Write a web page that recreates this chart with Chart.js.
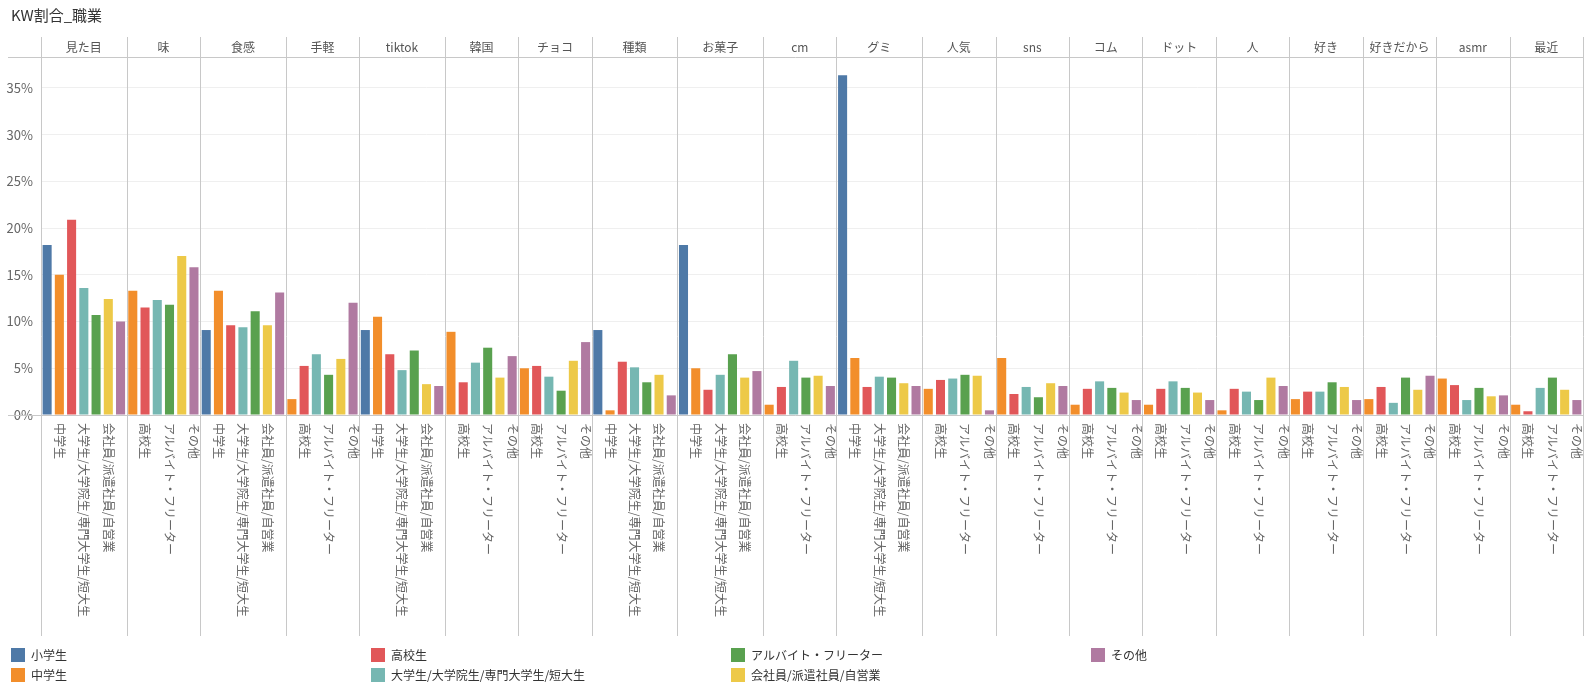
<!DOCTYPE html>
<html>
<head>
<meta charset="utf-8">
<script src="https://cdn.jsdelivr.net/npm/chart.js@4/dist/chart.umd.min.js"></script>
<style>
  body { margin: 0; background: #fff; }
  canvas { display: block; }
</style>
</head>
<body>
<canvas id="kwChart" width="1596" height="695"></canvas>
<script>
// キーワード（パネル）
const keywords = ['見た目', '味', '食感', '手軽', 'tiktok', '韓国', 'チョコ', '種類', 'お菓子', 'cm',
                  'グミ', '人気', 'sns', 'コム', 'ドット', '人', '好き', '好きだから', 'asmr', '最近'];

// 職業
const seriesNames = ['小学生', '中学生', '高校生', '大学生/大学院生/専門大学生/短大生',
                     'アルバイト・フリーター', '会社員/派遣社員/自営業', 'その他'];
const seriesColors = ['#4e79a7', '#f28e2b', '#e15759', '#76b7b2', '#59a14f', '#edc948', '#b07aa1'];

// 割合 (%)  null = データなし
const shogakusei = [18.18, null, 9.09, null, 9.09, null, null, 9.09, 18.18, null,
                    36.36, null, null, null, null, null, null, null, null, null];
const chugakusei = [15.0, 13.3, 13.3, 1.7, 10.5, 8.9, 5.0, 0.5, 5.0, 1.1,
                    6.1, 2.8, 6.1, 1.1, 1.1, 0.5, 1.7, 1.7, 3.9, 1.1];
const kokosei    = [20.9, 11.5, 9.6, 5.25, 6.5, 3.5, 5.25, 5.7, 2.7, 3.0,
                    3.0, 3.75, 2.25, 2.8, 2.8, 2.8, 2.5, 3.0, 3.2, 0.4];
const daigakusei = [13.6, 12.3, 9.4, 6.5, 4.8, 5.6, 4.1, 5.1, 4.3, 5.8,
                    4.1, 3.9, 3.0, 3.6, 3.6, 2.5, 2.5, 1.3, 1.6, 2.9];
const arubaito   = [10.7, 11.8, 11.1, 4.3, 6.9, 7.2, 2.6, 3.5, 6.5, 4.0,
                    4.0, 4.3, 1.9, 2.9, 2.9, 1.6, 3.5, 4.0, 2.9, 4.0];
const kaishain   = [12.4, 17.0, 9.6, 6.0, 3.3, 4.0, 5.8, 4.3, 4.0, 4.2,
                    3.4, 4.2, 3.4, 2.4, 2.4, 4.0, 3.0, 2.7, 2.0, 2.7];
const sonota     = [10.0, 15.8, 13.1, 12.0, 3.1, 6.3, 7.8, 2.1, 4.7, 3.1,
                    3.1, 0.5, 3.1, 1.6, 1.6, 3.1, 1.6, 4.2, 2.1, 1.6];

const yTicks = [0, 5, 10, 15, 20, 25, 30, 35];

const seriesValues = [shogakusei, chugakusei, kokosei, daigakusei, arubaito, kaishain, sonota];

// パネルごとに並べた棒のリストを作る
let barLabels = [];
let barValues = [];
let barColors = [];
let barPanel = [];
let barPos = [];
keywords.forEach((kw, k) => {
    let n = 0;
    seriesValues.forEach((arr, s) => {
        if (arr[k] !== null) {
            barLabels.push(seriesNames[s]);
            barValues.push(arr[k]);
            barColors.push(seriesColors[s]);
            barPanel.push(k);
            barPos.push(n++);
        }
    });
});

const FONT = "'Noto Sans CJK JP', 'Noto Sans', sans-serif";

// Tableau風の装飾（タイトル・パネル見出し・区切り線・縦書きラベル・凡例）
const tableauDecor = {
    id: 'tableauDecor',
    afterDraw(chart) {
        const ctx = chart.ctx;
        const xs = chart.scales.x;
        const area = chart.chartArea;
        const slot = (area.right - area.left) / barLabels.length;

        ctx.save();

        // タイトル
        ctx.fillStyle = '#333';
        ctx.font = '15px ' + FONT;
        ctx.textAlign = 'left';
        ctx.textBaseline = 'middle';
        ctx.fillText('KW割合_職業', 11, 15);

        // 横線（見出し下と 0% ライン）
        ctx.strokeStyle = '#c8c8c8';
        ctx.lineWidth = 1;
        ctx.beginPath();
        ctx.moveTo(8, Math.round(area.top) + 0.5);
        ctx.lineTo(area.right, Math.round(area.top) + 0.5);
        ctx.moveTo(8, Math.round(area.bottom) + 0.5);
        ctx.lineTo(area.right, Math.round(area.bottom) + 0.5);
        ctx.stroke();

        // パネル境界
        let bounds = [];
        keywords.forEach((kw, k) => {
            const first = barPanel.indexOf(k);
            bounds.push(xs.getPixelForValue(first) - slot / 2);
        });
        bounds.push(area.right);

        ctx.beginPath();
        bounds.forEach(bx => {
            const px = Math.round(bx) + 0.5;
            ctx.moveTo(px, 37);
            ctx.lineTo(px, 636);
        });
        ctx.stroke();

        // パネル見出し
        ctx.fillStyle = '#555';
        ctx.font = '12px ' + FONT;
        ctx.textAlign = 'center';
        keywords.forEach((kw, k) => {
            ctx.fillText(kw, (bounds[k] + bounds[k + 1]) / 2, 47);
        });

        // X軸ラベル（1つおきに表示、時計回りに90度回転）
        ctx.fillStyle = '#666';
        ctx.font = '12px ' + FONT;
        ctx.textAlign = 'left';
        ctx.textBaseline = 'middle';
        barLabels.forEach((lab, i) => {
            if (barPos[i] % 2 === 1) {
                ctx.save();
                ctx.translate(xs.getPixelForValue(i), area.bottom + 8);
                ctx.rotate(Math.PI / 2);
                ctx.fillText(lab, 0, 0);
                ctx.restore();
            }
        });

        // 凡例（2行×4列）
        ctx.font = '12px ' + FONT;
        ctx.fillStyle = '#333';
        seriesNames.forEach((name, s) => {
            const col = Math.floor(s / 2);
            const row = s % 2;
            const lx = 11 + col * 360;
            const ly = 655 + row * 20;
            ctx.fillStyle = seriesColors[s];
            ctx.fillRect(lx, ly - 7, 14, 14);
            ctx.fillStyle = '#333';
            ctx.fillText(name, lx + 20, ly);
        });

        ctx.restore();
    }
};

let ctx = document.getElementById('kwChart').getContext('2d');
let kwChart = new Chart(ctx, {
    type: 'bar',
    data: {
        labels: barLabels,
        datasets: [{
            label: 'KW割合',
            data: barValues,
            backgroundColor: barColors,
            barPercentage: 0.74,
            categoryPercentage: 1.0
        }]
    },
    options: {
        responsive: false,
        animation: false,
        devicePixelRatio: 1,
        layout: { padding: { top: 57, right: 13, bottom: 0, left: 0 } },
        scales: {
            x: {
                ticks: { display: false },
                grid: { display: false },
                border: { display: false },
                afterFit: scale => { scale.height = 280; }
            },
            y: {
                min: 0,
                max: 38.3,
                afterFit: scale => { scale.width = 41; },
                afterBuildTicks: scale => { scale.ticks = yTicks.map(v => ({ value: v })); },
                ticks: {
                    color: '#666',
                    padding: 8,
                    font: { family: FONT, size: 13 },
                    callback: v => v + '%'
                },
                grid: { color: '#efefef', drawTicks: false },
                border: { display: false }
            }
        },
        plugins: {
            legend: { display: false },
            tooltip: { enabled: false }
        }
    },
    plugins: [tableauDecor]
});
</script>
</body>
</html>
